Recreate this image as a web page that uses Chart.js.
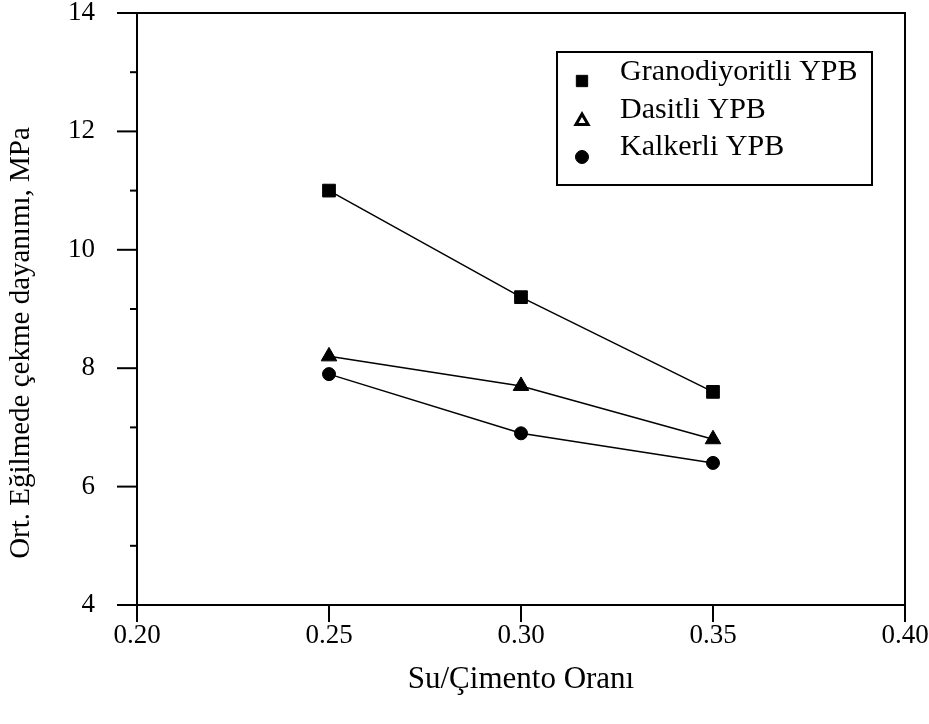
<!DOCTYPE html>
<html>
<head>
<meta charset="utf-8">
<script src="https://cdn.jsdelivr.net/npm/chart.js@4"></script>
<style>
  html, body { margin: 0; padding: 0; background: #fff; }
  canvas { display: block; }
</style>
</head>
<body>
<canvas id="myChart" width="929" height="724"></canvas>
<script>
// Datos del gráfico
const ratios = [0.25, 0.30, 0.35];
const granodiyoritli = [11.0, 9.2, 7.6];
const dasitli = [8.2, 7.7, 6.8];
const kalkerli = [7.9, 6.9, 6.4];
const seriesNames = ['Granodiyoritli YPB', 'Dasitli YPB', 'Kalkerli YPB'];
const xTicks = [0.20, 0.25, 0.30, 0.35, 0.40];
const yTicks = [4, 6, 8, 10, 12, 14];

const serif = '"Liberation Serif", "Times New Roman", serif';

function toPoints(vals) {
    return ratios.map((r, i) => ({ x: r, y: vals[i] }));
}

// Ejes, marcas y leyenda dibujados a mano
const frame = {
    id: 'frame',
    afterDraw(chart) {
        const c = chart.ctx;
        const a = chart.chartArea;
        const xs = chart.scales.x, ys = chart.scales.y;
        c.save();
        c.strokeStyle = '#000';
        // caja
        c.lineWidth = 2;
        c.strokeRect(a.left, a.top, a.right - a.left, a.bottom - a.top);
        // marcas y
        for (let v = 4; v <= 14; v++) {
            const py = ys.getPixelForValue(v);
            const len = v % 2 === 0 ? 20 : 7;
            c.beginPath();
            c.moveTo(a.left - len, py);
            c.lineTo(a.left, py);
            c.stroke();
        }
        // marcas x
        xTicks.forEach(v => {
            const px = xs.getPixelForValue(v);
            c.beginPath();
            c.moveTo(px, a.bottom);
            c.lineTo(px, a.bottom + 17);
            c.stroke();
        });
        // leyenda
        const bx = 557, by = 52, bw = 315, bh = 133;
        c.strokeRect(bx, by, bw, bh);
        const styles = ['rect', 'triangle', 'circle'];
        const radii = [8, 7, 6.5];
        const markerY = [81, 121, 157];
        const textY = [72, 110, 147];
        c.font = '30px ' + serif;
        c.textBaseline = 'middle';
        c.textAlign = 'left';
        seriesNames.forEach((name, i) => {
            const filled = styles[i] !== 'triangle';
            c.fillStyle = filled ? '#000' : '#fff';
            c.strokeStyle = '#000';
            c.lineWidth = filled ? 1 : 3;
            Chart.helpers.drawPoint(c, {
                pointStyle: styles[i],
                radius: radii[i],
                rotation: 0,
                borderWidth: c.lineWidth
            }, 582, markerY[i]);
            c.fillStyle = '#000';
            c.fillText(name, 620, textY[i]);
        });
        // títulos
        c.font = '31px ' + serif;
        c.textAlign = 'center';
        c.fillText('Su/Çimento Oranı', (a.left + a.right) / 2, 680);
        c.save();
        c.translate(21, (a.top + a.bottom) / 2 + 34);
        c.rotate(-Math.PI / 2);
        c.font = '29px ' + serif;
        c.fillText('Ort. Eğilmede çekme dayanımı, MPa', 0, 0);
        c.restore();
        c.restore();
    }
};

const makeSet = (label, vals, style, radius) => ({
    label: label,
    data: toPoints(vals),
    showLine: true,
    borderColor: '#000',
    borderWidth: 1.5,
    backgroundColor: '#000',
    pointStyle: style,
    pointRadius: radius,
    pointBorderWidth: 1,
    pointBackgroundColor: '#000',
    pointBorderColor: '#000',
    fill: false,
    tension: 0
});

const config = {
    type: 'scatter',
    data: {
        datasets: [
            makeSet(seriesNames[0], granodiyoritli, 'rect', 9),
            makeSet(seriesNames[1], dasitli, 'triangle', 9),
            makeSet(seriesNames[2], kalkerli, 'circle', 6.5)
        ]
    },
    options: {
        responsive: false,
        animation: false,
        layout: { padding: { top: 13, right: 24, left: 0, bottom: 0 } },
        plugins: {
            legend: { display: false },
            tooltip: { enabled: false }
        },
        scales: {
            x: {
                type: 'linear',
                min: 0.20,
                max: 0.40,
                afterBuildTicks: s => { s.ticks = xTicks.map(v => ({ value: v })); },
                afterFit: s => { s.height = 119; s.paddingLeft = 0; s.paddingRight = 0; },
                grid: { display: false },
                border: { display: false },
                ticks: {
                    padding: 7,
                    color: '#000',
                    font: { family: serif, size: 27 },
                    callback: v => Number(v).toFixed(2)
                }
            },
            y: {
                min: 4,
                max: 14,
                afterBuildTicks: s => { s.ticks = yTicks.map(v => ({ value: v })); },
                afterFit: s => { s.width = 137; s.paddingTop = 0; s.paddingBottom = 0; },
                grid: { display: false },
                border: { display: false },
                ticks: {
                    padding: 34,
                    color: '#000',
                    font: { family: serif, size: 27 }
                }
            }
        }
    },
    plugins: [frame]
};

const myChart = new Chart(document.getElementById('myChart').getContext('2d'), config);
</script>
</body>
</html>
